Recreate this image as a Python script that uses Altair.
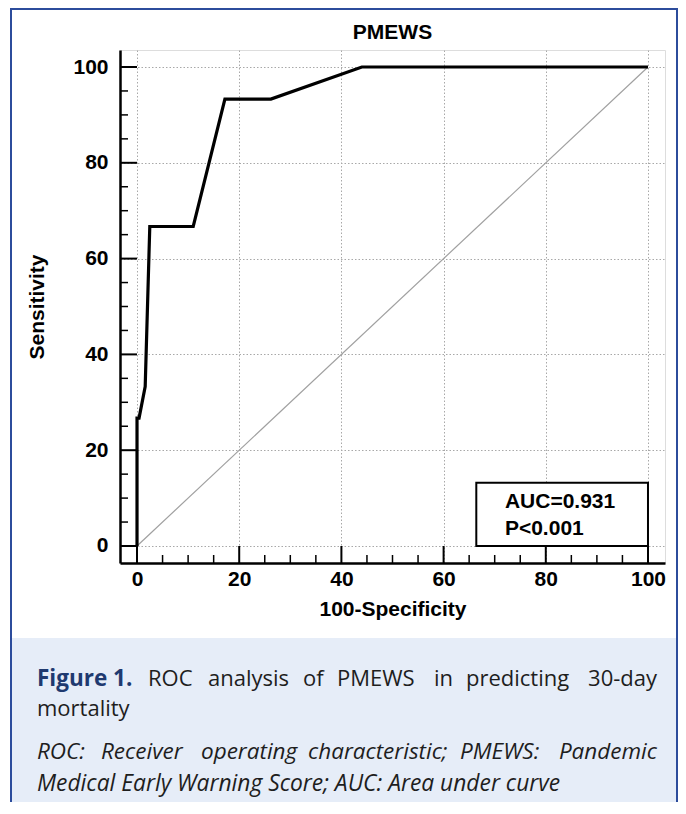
import altair as alt
import pandas as pd

# ---------------- data ----------------
fpr = [0, 0, 0.4, 1.6, 2.5, 11.0, 17.2, 26.2, 44.0, 100]
sens = [0, 26.7, 26.7, 33.3, 66.7, 66.7, 93.3, 93.3, 100, 100]
diag_x = [0, 100]
diag_y = [0, 100]
major_ticks = [0, 20, 40, 60, 80, 100]
minor_ticks = [5, 10, 15, 25, 30, 35, 45, 50, 55, 65, 70, 75, 85, 90, 95]
auc_lines = ["AUC=0.931", "P<0.001"]
chart_title = "PMEWS"
x_title = "100-Specificity"
y_title = "Sensitivity"

# ---------------- layout ----------------
W, H = 545, 513
PL, PT = 112, 42            # padding -> plot origin at page (120, 50)
PR = 670 - PL - W
PB = 794 - PT - H
XDOM = [-3.33, 103.33]
YDOM = [-3.55, 103.55]
FONT = "Liberation Sans"
CFONT = "Open Sans"

def px(page_x):
    return page_x - 120

def py(page_y):
    return page_y - 50

xs = alt.Scale(domain=XDOM, nice=False, zero=False)
ys = alt.Scale(domain=YDOM, nice=False, zero=False)
xa = alt.Axis(values=major_ticks, grid=True, ticks=False, tickSize=0,
              domain=True, domainColor="black", domainWidth=2.5,
              labelFont=FONT, labelFontSize=21, labelFontWeight="bold",
              labelColor="black", labelPadding=5, labelFlush=False,
              title=x_title, titleFont=FONT, titleFontSize=21,
              titleFontWeight="bold", titleColor="black", titlePadding=9,
              gridColor="#a8a8a8", gridDash=[1.5, 2], gridWidth=1)
ya = alt.Axis(values=major_ticks, grid=True, ticks=False, tickSize=0,
              domain=True, domainColor="black", domainWidth=2.5,
              labelFont=FONT, labelFontSize=21, labelFontWeight="bold",
              labelColor="black", labelPadding=12, labelFlush=False,
              title=y_title, titleFont=FONT, titleFontSize=21,
              titleFontWeight="bold", titleColor="black", titlePadding=25,
              gridColor="#a8a8a8", gridDash=[1.5, 2], gridWidth=1)

def X(f):
    return alt.X(f, type="quantitative", scale=xs, axis=xa)

def Y(f):
    return alt.Y(f, type="quantitative", scale=ys, axis=ya)

one = pd.DataFrame({"k": [0]})

# caption background & frame
cap_bg = alt.Chart(one).mark_rect(color="#E6EDF8").encode(
    x=alt.value(px(12)), x2=alt.value(px(676)),
    y=alt.value(py(638)), y2=alt.value(py(830)))
frame = alt.Chart(one).mark_rect(fill=None, stroke="#2C4C9C", strokeWidth=2).encode(
    x=alt.value(px(11)), x2=alt.value(px(677)),
    y=alt.value(py(9)), y2=alt.value(py(840)))

title = alt.Chart(pd.DataFrame({"t": [chart_title]})).mark_text(
    font=FONT, fontSize=21, fontWeight="bold", color="black",
    align="center", baseline="alphabetic").encode(
    text="t:N", x=alt.value(W / 2), y=alt.value(py(39)))

roc_df = pd.DataFrame({"fpr": fpr, "sens": sens, "i": range(len(fpr))})
diag_df = pd.DataFrame({"fpr": diag_x, "sens": diag_y, "i": [0, 1]})

diag = alt.Chart(diag_df).mark_line(color="#a0a0a0", strokeWidth=1.2).encode(
    x=X("fpr"), y=Y("sens"), order="i:Q")
roc = alt.Chart(roc_df).mark_line(color="black", strokeWidth=3.2,
                                  strokeJoin="miter").encode(
    x=X("fpr"), y=Y("sens"), order="i:Q")

box_df = pd.DataFrame({"x": [66.4], "x2": [100], "y": [0], "y2": [13.2]})
box = alt.Chart(box_df).mark_rect(fill="white", stroke="black", strokeWidth=2).encode(
    x=X("x"), x2="x2", y=Y("y"), y2="y2")
auc_df = pd.DataFrame({"t": auc_lines, "x": [72, 72], "y": [8.0, 2.4]})
auc = alt.Chart(auc_df).mark_text(font=FONT, fontSize=21, fontWeight="bold",
                                  align="left", baseline="alphabetic",
                                  color="black").encode(
    x=X("x"), y=Y("y"), text="t:N")

mt = pd.DataFrame({"t": major_ticks})
nt = pd.DataFrame({"t": minor_ticks})
xmaj = alt.Chart(mt).mark_rule(color="black", strokeWidth=2).encode(
    x=X("t"), y=alt.value(H), y2=alt.value(H - 17))
xmin = alt.Chart(nt).mark_rule(color="black", strokeWidth=1.5).encode(
    x=X("t"), y=alt.value(H), y2=alt.value(H - 8))
ymaj = alt.Chart(mt).mark_rule(color="black", strokeWidth=2).encode(
    y=Y("t"), x=alt.value(0), x2=alt.value(17))
ymin = alt.Chart(nt).mark_rule(color="black", strokeWidth=1.5).encode(
    y=Y("t"), x=alt.value(0), x2=alt.value(8))

# caption text
def word(text, x, y, align="left", weight="normal", style="normal",
         color="#1e1e1e", size=22):
    return alt.Chart(pd.DataFrame({"t": [text]})).mark_text(
        font=CFONT, fontSize=size, fontWeight=weight, fontStyle=style,
        align=align, baseline="alphabetic", color=color).encode(
        text="t:N", x=alt.value(px(x)), y=alt.value(py(y)))

line1 = ["ROC", "analysis", "of", "PMEWS", "in", "predicting", "30-day"]
line1_x = [148, 208, 303, 337, 434, 466, 657]
line3 = ["ROC:", "Receiver", "operating", "characteristic;", "PMEWS:", "Pandemic"]
line3_x = [37, 101, 201, 308, 460, 657]
line2 = "mortality"
line4 = "Medical Early Warning Score; AUC: Area under curve"

caps = [word("Figure 1.", 37, 686, weight="bold", color="#1F3A70", size=22.5)]
for i, (w, x) in enumerate(zip(line1, line1_x)):
    caps.append(word(w, x, 686, align="right" if i == len(line1) - 1 else "left"))
caps.append(word(line2, 37, 716))
for i, (w, x) in enumerate(zip(line3, line3_x)):
    caps.append(word(w, x, 759, style="italic", size=22.5,
                     align="right" if i == len(line3) - 1 else "left"))
caps.append(word(line4, 37, 791, style="italic", size=22.8))

chart = alt.layer(cap_bg, frame, title, diag, roc, box, auc,
                  xmaj, xmin, ymaj, ymin, *caps).properties(
    width=W, height=H,
    autosize=alt.AutoSizeParams(type="none"),
    padding={"left": PL, "top": PT, "right": PR, "bottom": PB},
).configure_view(stroke=None).configure(background="white")

chart.save("out.html", embed_options={"renderer": "svg", "actions": False})
